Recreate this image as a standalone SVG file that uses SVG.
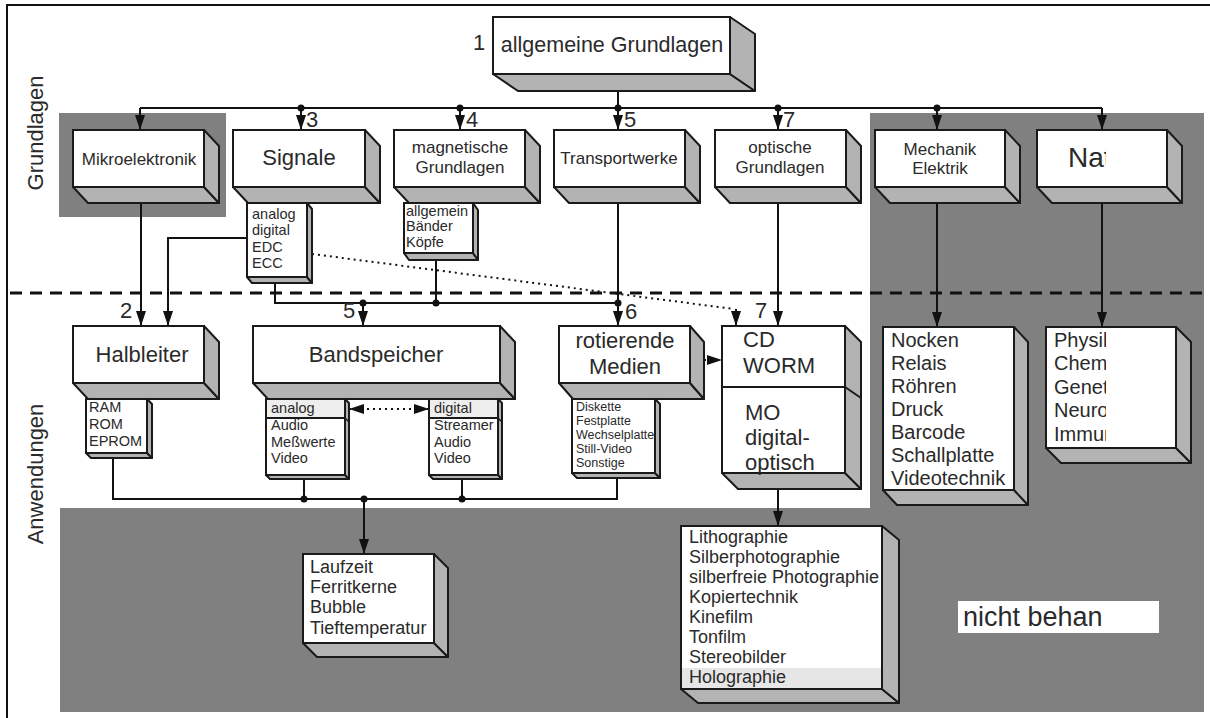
<svg xmlns="http://www.w3.org/2000/svg" width="1210" height="718" viewBox="0 0 1210 718">
<style>
.f{fill:#fff;stroke:#1a1a1a;stroke-width:2}
.d{fill:#b3b3b3;stroke:#1a1a1a;stroke-width:2;stroke-linejoin:round}
.t{font-family:"Liberation Sans",Arial,sans-serif;fill:#2a2a2a}
.c{fill:none;stroke:#111;stroke-width:2}
.dt{fill:none;stroke:#111;stroke-width:2;stroke-dasharray:2 4}
.dot{fill:#111}
.big{font-size:22px}
.mid{font-size:17px}
.sm{font-size:14.5px}
.xs{font-size:12.5px}
.l18{font-size:18px}
.l20{font-size:20px}
</style>
<defs>
<marker id="ah" markerWidth="15" markerHeight="10" refX="15" refY="5" orient="auto-start-reverse" markerUnits="userSpaceOnUse"><path d="M0,0 L15,5 L0,10 Z" fill="#111"/></marker>
<clipPath id="clipR"><rect x="1030" y="100" width="76" height="400"/></clipPath>
</defs>
<rect width="1210" height="718" fill="#fff"/>
<path d="M7,718 V5 H1210" fill="none" stroke="#111" stroke-width="2"/>
<rect x="59" y="113" width="167" height="104" fill="#808080"/>
<path d="M870,113 H1204 V712 H60 V508 H870 Z" fill="#808080"/>
<line x1="10" y1="293" x2="1210" y2="293" stroke="#111" stroke-width="3" stroke-dasharray="12 8"/>
<text class="t" font-size="22" text-anchor="middle" transform="translate(43,133) rotate(-90)">Grundlagen</text>
<text class="t" font-size="22" text-anchor="middle" transform="translate(43,474) rotate(-90)">Anwendungen</text>

<g id="connectors">
<path class="c" d="M618,83 V130" marker-end="url(#ah)"/>
<path class="c" d="M140,108 H1102"/>
<path class="c" d="M140,108 V130" marker-end="url(#ah)"/>
<path class="c" d="M1102,108 V130" marker-end="url(#ah)"/>
<path class="c" d="M301,108 V130" marker-end="url(#ah)"/>
<path class="c" d="M460,108 V130" marker-end="url(#ah)"/>
<path class="c" d="M778,108 V130" marker-end="url(#ah)"/>
<path class="c" d="M937,108 V130" marker-end="url(#ah)"/>
<circle class="dot" cx="301" cy="108" r="3.5"/>
<circle class="dot" cx="460" cy="108" r="3.5"/>
<circle class="dot" cx="618" cy="108" r="3.5"/>
<circle class="dot" cx="778" cy="108" r="3.5"/>
<circle class="dot" cx="937" cy="108" r="3.5"/>
<path class="c" d="M141,195 V326" marker-end="url(#ah)"/>
<path class="c" d="M247,238 H168 V326" marker-end="url(#ah)"/>
<path class="c" d="M275,283 V303 H618"/>
<path class="c" d="M363,303 V326" marker-end="url(#ah)"/>
<path class="c" d="M436,260 V303"/>
<path class="c" d="M618,197 V326" marker-end="url(#ah)"/>
<circle class="dot" cx="363" cy="303" r="3.5"/>
<circle class="dot" cx="436" cy="303" r="3.5"/>
<circle class="dot" cx="618" cy="303" r="3.5"/>
<path class="c" d="M778,197 V326" marker-end="url(#ah)"/>
<path class="c" d="M937,197 V327" marker-end="url(#ah)"/>
<path class="c" d="M1102,197 V327" marker-end="url(#ah)"/>
<path class="dt" d="M312,254 L734,309"/>
<path class="c" d="M736,309 V326" marker-end="url(#ah)"/>
<path class="dt" d="M704,360 H722" marker-end="url(#ah)"/>
<path class="dt" d="M349,409 H429" marker-start="url(#ah)" marker-end="url(#ah)"/>
<path class="c" d="M113,458 V499 H617 V478"/>
<path class="c" d="M304,479 V499"/>
<path class="c" d="M462,479 V499"/>
<circle class="dot" cx="304" cy="499" r="3.5"/>
<circle class="dot" cx="364" cy="499" r="3.5"/>
<circle class="dot" cx="462" cy="499" r="3.5"/>
<path class="c" d="M364,499 V554" marker-end="url(#ah)"/>
<path class="c" d="M778,481 V526" marker-end="url(#ah)"/>
</g>

<g id="labels" class="t big">
<text x="473" y="50">1</text>
<text x="306" y="127">3</text>
<text x="466" y="127">4</text>
<text x="624" y="127">5</text>
<text x="783" y="127">7</text>
<text x="120" y="318">2</text>
<text x="343" y="318">5</text>
<text x="625" y="319">6</text>
<text x="755" y="318">7</text>
</g>

<g id="n-allgemeine">
<rect class="f" x="493" y="17" width="237" height="57"/>
<path class="d" d="M493,74 L730,74 L755,91 L518,91 Z"/>
<path class="d" d="M730,17 L755,34 L755,91 L730,74 Z"/>
<text class="t" x="612" y="52" font-size="21.5" text-anchor="middle">allgemeine Grundlagen</text>
</g>

<g id="n-mikro">
<rect class="f" x="73" y="130" width="131" height="57"/>
<path class="d" d="M73,187 L204,187 L219,203 L88,203 Z"/>
<path class="d" d="M204,130 L219,146 L219,203 L204,187 Z"/>
<text class="t mid" x="139" y="165" text-anchor="middle">Mikroelektronik</text>
</g>

<g id="n-signale-list">
<rect class="f" x="247" y="203" width="60" height="74"/>
<path class="d" d="M247,277 L307,277 L312,283 L252,283 Z"/>
<path class="d" d="M307,203 L312,209 L312,283 L307,277 Z"/>
<text class="t sm" x="252" y="219">analog</text>
<text class="t sm" x="252" y="235">digital</text>
<text class="t sm" x="252" y="252">EDC</text>
<text class="t sm" x="252" y="268">ECC</text>
</g>
<g id="n-signale">
<rect class="f" x="233" y="130" width="132" height="57"/>
<path class="d" d="M233,187 L365,187 L380,203 L248,203 Z"/>
<path class="d" d="M365,130 L380,146 L380,203 L365,187 Z"/>
<text class="t big" x="299" y="165" text-anchor="middle">Signale</text>
</g>

<g id="n-mag-list">
<rect class="f" x="404" y="203" width="69" height="50"/>
<path class="d" d="M404,253 L473,253 L478,260 L409,260 Z"/>
<path class="d" d="M473,203 L478,210 L478,260 L473,253 Z"/>
<text class="t sm" x="406" y="216">allgemein</text>
<text class="t sm" x="406" y="231">Bänder</text>
<text class="t sm" x="406" y="247">Köpfe</text>
</g>
<g id="n-mag">
<rect class="f" x="394" y="130" width="131" height="57"/>
<path class="d" d="M394,187 L525,187 L540,203 L409,203 Z"/>
<path class="d" d="M525,130 L540,146 L540,203 L525,187 Z"/>
<text class="t mid" x="460" y="153" text-anchor="middle">magnetische</text>
<text class="t mid" x="460" y="173" text-anchor="middle">Grundlagen</text>
</g>

<g id="n-transport">
<rect class="f" x="554" y="130" width="131" height="57"/>
<path class="d" d="M554,187 L685,187 L700,203 L569,203 Z"/>
<path class="d" d="M685,130 L700,146 L700,203 L685,187 Z"/>
<text class="t mid" x="619" y="164" text-anchor="middle">Transportwerke</text>
</g>

<g id="n-optisch">
<rect class="f" x="715" y="130" width="131" height="57"/>
<path class="d" d="M715,187 L846,187 L861,203 L730,203 Z"/>
<path class="d" d="M846,130 L861,146 L861,203 L846,187 Z"/>
<text class="t mid" x="780" y="153" text-anchor="middle">optische</text>
<text class="t mid" x="780" y="173" text-anchor="middle">Grundlagen</text>
</g>

<g id="n-mechanik">
<rect class="f" x="875" y="130" width="130" height="57"/>
<path class="d" d="M875,187 L1005,187 L1020,203 L890,203 Z"/>
<path class="d" d="M1005,130 L1020,146 L1020,203 L1005,187 Z"/>
<text class="t mid" x="940" y="155" text-anchor="middle">Mechanik</text>
<text class="t mid" x="940" y="174" text-anchor="middle">Elektrik</text>
</g>

<g id="n-nat">
<rect class="f" x="1037" y="130" width="130" height="57"/>
<path class="d" d="M1037,187 L1167,187 L1182,203 L1052,203 Z"/>
<path class="d" d="M1167,130 L1182,146 L1182,203 L1167,187 Z"/>
<text class="t" x="1068" y="167" font-size="28" clip-path="url(#clipR)">Nat</text>
</g>

<g id="n-halbleiter">
<rect class="f" x="73" y="326" width="131" height="57"/>
<path class="d" d="M73,383 L204,383 L219,399 L88,399 Z"/>
<path class="d" d="M204,326 L219,342 L219,399 L204,383 Z"/>
<text class="t big" x="142" y="362" text-anchor="middle">Halbleiter</text>
</g>
<g id="n-halbleiter-list">
<rect class="f" x="86" y="399" width="61" height="54"/>
<path class="d" d="M86,453 L147,453 L152,458 L91,458 Z"/>
<path class="d" d="M147,399 L152,404 L152,458 L147,453 Z"/>
<text class="t sm" x="89" y="412">RAM</text>
<text class="t sm" x="89" y="429">ROM</text>
<text class="t sm" x="89" y="446">EPROM</text>
</g>

<g id="n-band">
<rect class="f" x="253" y="326" width="247" height="57"/>
<path class="d" d="M253,383 L500,383 L515,399 L268,399 Z"/>
<path class="d" d="M500,326 L515,342 L515,399 L500,383 Z"/>
<text class="t big" x="376" y="362" text-anchor="middle">Bandspeicher</text>
</g>
<g id="n-analog">
<rect class="f" x="266" y="399" width="79" height="76"/>
<rect x="267" y="400" width="77" height="18" fill="#eeeeee"/>
<line x1="266" y1="418" x2="345" y2="418" stroke="#1a1a1a" stroke-width="2"/>
<path class="d" d="M266,475 L345,475 L349,479 L270,479 Z"/>
<path class="d" d="M345,399 L349,403 L349,479 L345,475 Z"/>
<line x1="345" y1="418" x2="349" y2="422" stroke="#1a1a1a" stroke-width="1.5"/>
<text class="t sm" x="271" y="413">analog</text>
<text class="t sm" x="271" y="430">Audio</text>
<text class="t sm" x="271" y="447">Meßwerte</text>
<text class="t sm" x="271" y="463">Video</text>
</g>
<g id="n-digital">
<rect class="f" x="429" y="399" width="69" height="76"/>
<rect x="430" y="400" width="67" height="18" fill="#eeeeee"/>
<line x1="429" y1="418" x2="498" y2="418" stroke="#1a1a1a" stroke-width="2"/>
<path class="d" d="M429,475 L498,475 L502,479 L433,479 Z"/>
<path class="d" d="M498,399 L502,403 L502,479 L498,475 Z"/>
<line x1="498" y1="418" x2="502" y2="422" stroke="#1a1a1a" stroke-width="1.5"/>
<text class="t sm" x="434" y="413">digital</text>
<text class="t sm" x="434" y="430">Streamer</text>
<text class="t sm" x="434" y="447">Audio</text>
<text class="t sm" x="434" y="463">Video</text>
</g>

<g id="n-rot">
<rect class="f" x="559" y="326" width="131" height="57"/>
<path class="d" d="M559,383 L690,383 L704,399 L573,399 Z"/>
<path class="d" d="M690,326 L704,342 L704,399 L690,383 Z"/>
<text class="t big" x="625" y="348" text-anchor="middle">rotierende</text>
<text class="t big" x="625" y="374" text-anchor="middle">Medien</text>
</g>
<g id="n-rot-list">
<rect class="f" x="572" y="399" width="83" height="74"/>
<path class="d" d="M572,473 L655,473 L660,478 L577,478 Z"/>
<path class="d" d="M655,399 L660,404 L660,478 L655,473 Z"/>
<text class="t xs" x="576" y="411">Diskette</text>
<text class="t xs" x="576" y="425">Festplatte</text>
<text class="t xs" x="576" y="439">Wechselplatte</text>
<text class="t xs" x="576" y="453">Still-Video</text>
<text class="t xs" x="576" y="467">Sonstige</text>
</g>

<g id="n-cd">
<rect class="f" x="722" y="326" width="123" height="147"/>
<line x1="722" y1="387" x2="845" y2="387" stroke="#1a1a1a" stroke-width="2"/>
<path class="d" d="M722,473 L845,473 L861,489 L738,489 Z"/>
<path class="d" d="M845,326 L861,342 L861,489 L845,473 Z"/>
<line x1="845" y1="387" x2="861" y2="398" stroke="#1a1a1a" stroke-width="2"/>
<text class="t big" x="743" y="347">CD</text>
<text class="t big" x="743" y="373">WORM</text>
<text class="t big" x="745" y="420">MO</text>
<text class="t big" x="745" y="445">digital-</text>
<text class="t big" x="745" y="470">optisch</text>
</g>

<g id="n-mech-list">
<rect class="f" x="883" y="327" width="131" height="163"/>
<path class="d" d="M883,490 L1014,490 L1028,505 L897,505 Z"/>
<path class="d" d="M1014,327 L1028,342 L1028,505 L1014,490 Z"/>
<text class="t l20" x="891" y="347">Nocken</text>
<text class="t l20" x="891" y="370">Relais</text>
<text class="t l20" x="891" y="393">Röhren</text>
<text class="t l20" x="891" y="416">Druck</text>
<text class="t l20" x="891" y="439">Barcode</text>
<text class="t l20" x="891" y="462">Schallplatte</text>
<text class="t l20" x="891" y="485">Videotechnik</text>
</g>

<g id="n-phys-list">
<rect class="f" x="1046" y="327" width="130" height="121"/>
<path class="d" d="M1046,448 L1176,448 L1191,463 L1061,463 Z"/>
<path class="d" d="M1176,327 L1191,342 L1191,463 L1176,448 Z"/>
<g clip-path="url(#clipR)">
<text class="t l20" x="1054" y="347">Physik</text>
<text class="t l20" x="1054" y="370">Chemie</text>
<text class="t l20" x="1054" y="394">Genetik</text>
<text class="t l20" x="1054" y="417">Neurologie</text>
<text class="t l20" x="1054" y="441">Immunologie</text>
</g>
</g>

<g id="n-laufzeit">
<rect class="f" x="303" y="554" width="131" height="89"/>
<path class="d" d="M303,643 L434,643 L448,657 L317,657 Z"/>
<path class="d" d="M434,554 L448,568 L448,657 L434,643 Z"/>
<text class="t l18" x="310" y="573">Laufzeit</text>
<text class="t l18" x="310" y="593">Ferritkerne</text>
<text class="t l18" x="310" y="613">Bubble</text>
<text class="t l18" x="310" y="634">Tieftemperatur</text>
</g>

<g id="n-litho">
<rect class="f" x="681" y="526" width="201" height="163"/>
<rect x="682" y="668" width="199" height="20" fill="#e6e6e6"/>
<path class="d" d="M681,689 L882,689 L899,703 L698,703 Z"/>
<path class="d" d="M882,526 L899,540 L899,703 L882,689 Z"/>
<text class="t l18" x="689" y="543">Lithographie</text>
<text class="t l18" x="689" y="563">Silberphotographie</text>
<text class="t l18" x="689" y="583">silberfreie Photographie</text>
<text class="t l18" x="689" y="603">Kopiertechnik</text>
<text class="t l18" x="689" y="623">Kinefilm</text>
<text class="t l18" x="689" y="643">Tonfilm</text>
<text class="t l18" x="689" y="663">Stereobilder</text>
<text class="t l18" x="689" y="683">Holographie</text>
</g>

<g id="n-nicht">
<rect x="958" y="601" width="201" height="32" fill="#fff"/>
<text class="t" x="963" y="626" font-size="27">nicht behan</text>
</g>
</svg>
